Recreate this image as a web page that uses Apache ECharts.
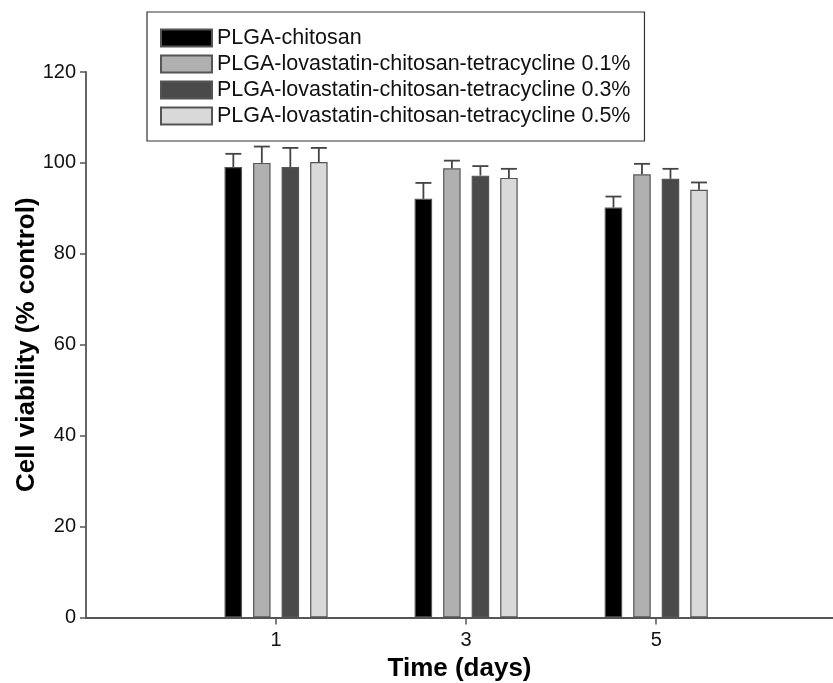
<!DOCTYPE html>
<html>
<head>
<meta charset="utf-8">
<script src="https://cdn.jsdelivr.net/npm/echarts@6/dist/echarts.min.js"></script>
<style>html,body{margin:0;padding:0;background:#fff;}#chart{width:833px;height:683px;}</style>
</head>
<body>
<div id="chart"></div>
<script>
const days = [1, 3, 5];
const dayTicks = [1, 3, 5];
const seriesNames = [
  'PLGA-chitosan',
  'PLGA-lovastatin-chitosan-tetracycline 0.1%',
  'PLGA-lovastatin-chitosan-tetracycline 0.3%',
  'PLGA-lovastatin-chitosan-tetracycline 0.5%'
];
const meanChitosan = [99.1, 92.1, 90.2];
const mean01 = [100.0, 98.8, 97.5];
const mean03 = [99.1, 97.2, 96.5];
const mean05 = [100.2, 96.7, 94.1];
const errChitosan = [2.9, 3.5, 2.4];
const err01 = [3.6, 1.7, 2.3];
const err03 = [4.2, 2.1, 2.2];
const err05 = [3.1, 2.0, 1.6];

const means = [meanChitosan, mean01, mean03, mean05];
const errs = [errChitosan, err01, err03, err05];
const colors = ['#000000', '#b0b0b0', '#4a4a4a', '#d9d9d9'];
const FONT = 'Liberation Sans, Arial, Helvetica, sans-serif';
const BAR_W = 17.5, STEP = 28.5;

const chart = echarts.init(document.getElementById('chart'));
const series = [];
means.forEach((m, i) => {
  series.push({
    name: seriesNames[i],
    type: 'bar',
    barWidth: BAR_W,
    barGap: '63%',
    data: days.map((d, j) => [d, m[j]]),
    itemStyle: { color: colors[i], borderColor: '#555', borderWidth: 1.2 },
    z: 2
  });
});
means.forEach((m, i) => {
  series.push({
    name: seriesNames[i] + ' err',
    type: 'custom',
    data: days.map((d, j) => [d, m[j], errs[i][j]]),
    z: 3,
    renderItem: function (params, api) {
      const x = api.value(0), y = api.value(1), e = api.value(2);
      const p0 = api.coord([x, y]);
      const p1 = api.coord([x, y + e]);
      const cx = p0[0] + (i - 1.5) * STEP;
      const st = { stroke: '#444', lineWidth: 1.8 };
      return {
        type: 'group',
        children: [
          { type: 'line', shape: { x1: cx, y1: p0[1], x2: cx, y2: p1[1] }, style: st },
          { type: 'line', shape: { x1: cx - 8, y1: p1[1], x2: cx + 8, y2: p1[1] }, style: st }
        ]
      };
    }
  });
});

chart.setOption({
  animation: false,
  backgroundColor: '#fff',
  textStyle: { fontFamily: FONT },
  legend: {
    data: seriesNames,
    orient: 'vertical',
    left: 147,
    top: 12,
    padding: [15, 14, 14, 13],
    itemWidth: 51,
    itemHeight: 17,
    itemGap: 4,
    borderColor: '#333',
    borderWidth: 1.2,
    icon: 'rect',
    textStyle: { fontSize: 21.5, color: '#111', fontFamily: FONT }
  },
  grid: { left: 86, right: 0, top: 72, bottom: 65.5, containLabel: false, outerBoundsMode: 'none' },
  xAxis: {
    type: 'value',
    min: -1,
    max: 6.86,
    name: 'Time (days)',
    nameLocation: 'middle',
    nameGap: 38,
    nameMoveOverlap: false,
    nameTextStyle: { fontSize: 26, fontWeight: 'bold', color: '#000', fontFamily: FONT },
    axisLine: { onZero: false, lineStyle: { color: '#555', width: 1.8 } },
    axisTick: { show: true, length: 7, customValues: dayTicks, lineStyle: { color: '#555', width: 1.5 } },
    axisLabel: { customValues: dayTicks, fontSize: 20, color: '#111', margin: 13 },
    splitLine: { show: false }
  },
  yAxis: {
    type: 'value',
    min: 0,
    max: 120,
    interval: 20,
    name: 'Cell viability (% control)',
    nameLocation: 'middle',
    nameGap: 46,
    nameMoveOverlap: false,
    nameTextStyle: { fontSize: 26, fontWeight: 'bold', color: '#000', fontFamily: FONT },
    axisLine: { show: true, onZero: false, lineStyle: { color: '#555', width: 1.8 } },
    axisTick: { show: true, length: 6, lineStyle: { color: '#555', width: 1.5 } },
    axisLabel: { fontSize: 20, color: '#111', margin: 10 },
    splitLine: { show: false }
  },
  series: series
});
</script>
</body>
</html>
